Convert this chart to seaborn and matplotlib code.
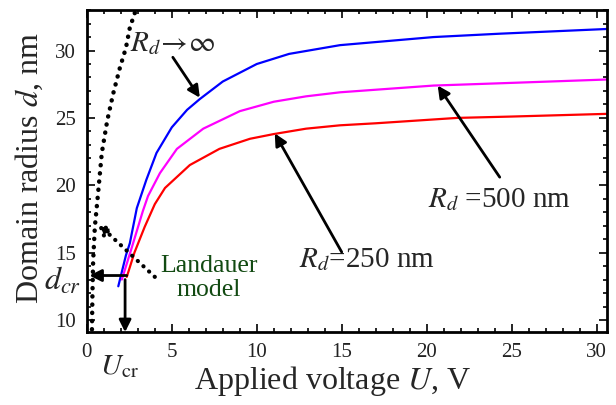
import matplotlib
matplotlib.use("Agg")
import matplotlib.pyplot as plt
from matplotlib.ticker import MultipleLocator
import seaborn as sns

# curves: applied voltage U (V) vs domain radius d (nm)
u_inf = [1.85, 2.3, 2.53, 2.94, 3.5, 4.1, 5.0, 5.9, 6.65, 8.0, 10.0, 11.9, 14.9, 20.4, 24.3, 30.6]
d_inf = [12.5, 14.8, 15.7, 18.3, 20.4, 22.4, 24.3, 25.6, 26.4, 27.7, 29.0, 29.75, 30.4, 31.0, 31.25, 31.6]

u_500 = [2.06, 2.65, 3.3, 3.6, 4.3, 5.3, 6.85, 9.0, 11.0, 12.9, 14.9, 20.4, 25.0, 30.6]
d_500 = [13.0, 15.4, 18.1, 19.2, 20.9, 22.7, 24.2, 25.5, 26.2, 26.6, 26.9, 27.4, 27.6, 27.85]

u_250 = [2.35, 2.8, 3.4, 4.0, 4.6, 6.06, 7.8, 9.6, 11.0, 12.9, 14.9, 17.0, 21.8, 25.0, 30.6]
d_250 = [13.2, 15.0, 16.9, 18.6, 19.8, 21.5, 22.7, 23.45, 23.8, 24.2, 24.45, 24.6, 25.0, 25.1, 25.3]

# Landauer model (dotted)
u_land = [0.3, 0.33, 0.37, 0.47, 0.66, 0.88, 1.2, 1.55, 1.94, 2.3, 2.53, 2.8, 3.0]
d_land = [9.3, 12.0, 14.4, 16.9, 19.4, 22.4, 24.8, 26.8, 28.7, 30.2, 31.7, 32.7, 33.5]

u_cr = 2.25
d_cr = 13.3

sns.set_theme(style="ticks")
plt.rcParams["font.family"] = ["Liberation Serif", "DejaVu Serif"]
plt.rcParams["mathtext.fontset"] = "stix"

fig = plt.figure(figsize=(6.16, 4.05), dpi=100)
ax = fig.add_axes([0.141, 0.180, 0.844, 0.795])

sns.lineplot(x=u_land, y=d_land, sort=False, color="black", lw=3.2,
             linestyle=(0, (0.05, 1.8)), dash_capstyle="round", ax=ax)
sns.lineplot(x=u_inf, y=d_inf, sort=False, color="#0000ff", lw=1.6, ax=ax)
sns.lineplot(x=u_500, y=d_500, sort=False, color="#ff00ff", lw=1.6, ax=ax)
sns.lineplot(x=u_250, y=d_250, sort=False, color="#ff0000", lw=1.6, ax=ax)

ax.set_xlim(0, 30.6)
ax.set_ylim(9.1, 33)
ax.xaxis.set_major_locator(MultipleLocator(5))
ax.xaxis.set_minor_locator(MultipleLocator(1))
ax.yaxis.set_major_locator(MultipleLocator(5))
ax.yaxis.set_minor_locator(MultipleLocator(1))
ax.tick_params(which="both", direction="in", top=True, right=True, width=1.2,
               color="black", labelsize=15, labelcolor="#222222")
ax.tick_params(which="major", length=6, pad=8)
ax.tick_params(which="minor", length=3)
for sp in ax.spines.values():
    sp.set_linewidth(2)
    sp.set_color("black")

ax.set_xlabel("Applied voltage $U$, V", fontsize=23)
ax.set_ylabel("Domain radius $d$, nm", fontsize=23)
ax.xaxis.set_label_coords(0.473, -0.10)
ax.yaxis.set_label_coords(-0.08, 0.51)

arrow = dict(arrowstyle="-|>", color="black", lw=2, mutation_scale=18, shrinkA=0, shrinkB=0)

# critical point arrows
ax.annotate("", xy=(0.15, d_cr), xytext=(2.35, d_cr), arrowprops=arrow)
ax.annotate("", xy=(u_cr, 9.1), xytext=(u_cr, 13.0), arrowprops=arrow, annotation_clip=False)
ax.text(-0.35, 12.85, "$d_{cr}$", fontsize=23, ha="right", va="center", clip_on=False)
ax.text(1.9, 6.5, r"$U_{\rm cr}$", fontsize=21, ha="center", va="center", clip_on=False)

# Landauer model pointer (dotted)
ax.annotate("", xy=(0.6, 17.2), xytext=(4.0, 13.2),
            arrowprops=dict(arrowstyle="-|>", color="black", lw=3, linestyle=(0, (0.05, 1.8)),
                            capstyle="round", mutation_scale=16, shrinkA=0, shrinkB=0))
ax.text(7.2, 13.1, "Landauer\nmodel", fontsize=18.5, color="#124a12",
        ha="center", va="center", linespacing=1.15)

# curve labels
ax.text(2.53, 30.5, r"$R_d\!\rightarrow\!\infty$", fontsize=21, ha="left", va="center")
ax.annotate("", xy=(6.65, 26.5), xytext=(5.06, 29.5), arrowprops=arrow)

ax.text(20.06, 18.96, "$R_d$ =500 nm", fontsize=21, ha="left", va="center")
ax.annotate("", xy=(20.65, 27.4), xytext=(24.3, 20.6), arrowprops=arrow)

ax.text(12.5, 14.45, "$R_d$=250 nm", fontsize=21, ha="left", va="center")
ax.annotate("", xy=(11.06, 23.85), xytext=(15.0, 15.04), arrowprops=arrow)

fig.savefig("out.png", dpi=100)
